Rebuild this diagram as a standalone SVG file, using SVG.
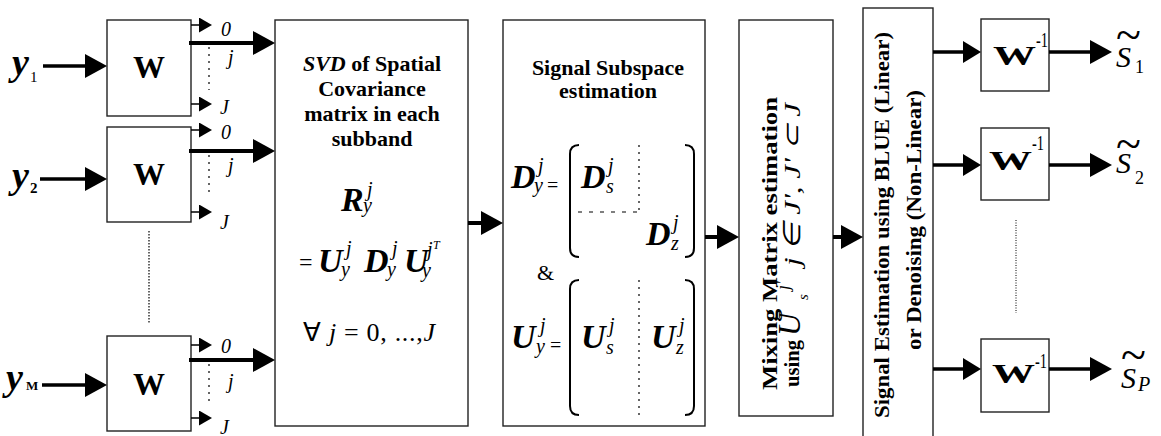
<svg xmlns="http://www.w3.org/2000/svg" width="1161" height="436" viewBox="0 0 1161 436" font-family="'Liberation Serif', 'Times New Roman', serif">
<defs>
<style>
.box{fill:#fff;stroke:#222;stroke-width:1.4}
.t{font-family:"Liberation Serif","Times New Roman",serif;fill:#000}
.b{font-weight:bold}
.i{font-style:italic}
.thick{stroke:#000;stroke-width:4;fill:none}
.med{stroke:#000;stroke-width:3.5;fill:none}
.thin{stroke:#000;stroke-width:1.5;fill:none}
.dot{stroke:#000;stroke-width:1.2;stroke-dasharray:2 5;fill:none}
.fine{stroke:#000;stroke-width:1.2;stroke-dasharray:1.5 1.5;fill:none}
.brk{stroke:#000;stroke-width:2;fill:none}
</style>
<marker id="big" markerUnits="userSpaceOnUse" markerWidth="22" markerHeight="24" refX="0" refY="12" orient="auto"><path d="M0,0 L22,12 L0,24 Z" fill="#000"/></marker>
<marker id="mid" markerUnits="userSpaceOnUse" markerWidth="18" markerHeight="22" refX="0" refY="11" orient="auto"><path d="M0,0 L18,11 L0,22 Z" fill="#000"/></marker>
<marker id="small" markerUnits="userSpaceOnUse" markerWidth="13" markerHeight="15" refX="0" refY="7.5" orient="auto"><path d="M0,0 L13,7.5 L0,15 Z" fill="#000"/></marker>
</defs>

<g id="input-labels">
<text class="t b i" x="12" y="75" font-size="38">y</text><text class="t" x="30" y="82" font-size="15">1</text>
<text class="t b i" x="12" y="188" font-size="38">y</text><text class="t b" x="30" y="193" font-size="15">2</text>
<text class="t b i" x="6" y="390" font-size="38">y</text><text class="t b" x="26" y="390" font-size="13">M</text>
</g>

<g id="w1"><rect class="box" x="107" y="20" width="84" height="96"/><text class="t b" x="149" y="78" font-size="32" text-anchor="middle">W</text></g>
<g id="w2"><rect class="box" x="107" y="127" width="84" height="95"/><text class="t b" x="149" y="185" font-size="32" text-anchor="middle">W</text></g>
<g id="w3"><rect class="box" x="107" y="336" width="84" height="95"/><text class="t b" x="149" y="395" font-size="32" text-anchor="middle">W</text></g>

<g id="subband-labels">
<text class="t i" x="221" y="36" font-size="20">0</text><text class="t i" x="228" y="64" font-size="20">j</text><text class="t i" x="220" y="114" font-size="20">J</text>
<text class="t i" x="221" y="139" font-size="20">0</text><text class="t i" x="228" y="172" font-size="20">j</text><text class="t i" x="220" y="229" font-size="20">J</text>
<text class="t i" x="221" y="353" font-size="20">0</text><text class="t i" x="228" y="388" font-size="20">j</text><text class="t i" x="220" y="434" font-size="20">J</text>
</g>

<g id="svd">
<rect class="box" x="275" y="20" width="193" height="406"/>
<text class="t b" x="372" y="71" font-size="22" text-anchor="middle"><tspan class="i">SVD</tspan> of Spatial</text>
<text class="t b" x="372" y="96" font-size="22" text-anchor="middle">Covariance</text>
<text class="t b" x="372" y="121" font-size="22" text-anchor="middle">matrix in each</text>
<text class="t b" x="372" y="146" font-size="22" text-anchor="middle">subband</text>
<text class="t b i" x="341" y="211" font-size="34">R</text><text class="t i" x="367" y="196" font-size="20">j</text><text class="t i" x="363" y="212" font-size="20">y</text>
<text class="t" x="299" y="270" font-size="24">=</text>
<text class="t b i" x="318" y="272" font-size="34">U</text><text class="t i" x="346" y="255" font-size="20">j</text><text class="t i" x="341" y="276" font-size="20">y</text>
<text class="t b i" x="364" y="272" font-size="34">D</text><text class="t i" x="392" y="255" font-size="20">j</text><text class="t i" x="387" y="276" font-size="20">y</text>
<text class="t b i" x="404" y="272" font-size="34">U</text><text class="t i" x="427" y="256" font-size="20">j</text><text class="t i" x="433" y="249" font-size="12">T</text><text class="t i" x="422" y="277" font-size="20">y</text>
<text class="t" x="303" y="341" font-size="26" textLength="132"><tspan>∀ </tspan><tspan class="i">j</tspan><tspan> = 0, ...,</tspan><tspan class="i">J</tspan></text>
</g>

<g id="subspace">
<rect class="box" x="503" y="20" width="202" height="406"/>
<text class="t b" x="608" y="75" font-size="22" text-anchor="middle">Signal Subspace</text>
<text class="t b" x="608" y="98" font-size="22" text-anchor="middle">estimation</text>
<text class="t b i" x="511" y="188" font-size="34">D</text><text class="t i" x="538" y="172" font-size="20">j</text><text class="t i" x="534" y="192" font-size="20">y</text><text class="t" x="547" y="192" font-size="20">=</text>
<path class="brk" d="M579,145 Q570,145 570,154 L570,248 Q570,257 579,257"/>
<path class="brk" d="M685,145 Q694,145 694,154 L694,248 Q694,257 685,257"/>
<text class="t b i" x="581" y="188" font-size="34">D</text><text class="t i" x="608" y="172" font-size="20">j</text><text class="t i" x="606" y="193" font-size="20">s</text>
<line class="dot" x1="639" y1="145" x2="639" y2="210"/>
<line class="dot" x1="578" y1="212" x2="640" y2="212" style="stroke-dasharray:4 7"/>
<text class="t b i" x="646" y="245" font-size="34">D</text><text class="t i" x="673" y="229" font-size="20">j</text><text class="t i" x="671" y="250" font-size="20">z</text>
<text class="t" x="537" y="280" font-size="22">&amp;</text>
<text class="t b i" x="511" y="348" font-size="34">U</text><text class="t i" x="540" y="332" font-size="20">j</text><text class="t i" x="536" y="353" font-size="20">y</text><text class="t" x="550" y="352" font-size="20">=</text>
<path class="brk" d="M579,280 Q570,280 570,289 L570,406 Q570,415 579,415"/>
<path class="brk" d="M685,280 Q694,280 694,289 L694,406 Q694,415 685,415"/>
<text class="t b i" x="581" y="348" font-size="34">U</text><text class="t i" x="609" y="332" font-size="20">j</text><text class="t i" x="606" y="354" font-size="20">s</text>
<line class="dot" x1="639" y1="280" x2="639" y2="415"/>
<text class="t b i" x="651" y="348" font-size="34">U</text><text class="t i" x="679" y="332" font-size="20">j</text><text class="t i" x="676" y="354" font-size="20">z</text>
</g>

<g id="mixing">
<rect class="box" x="739" y="20" width="94" height="396"/>
<g transform="rotate(-90)">
<text class="t b" x="-390" y="777" font-size="20" textLength="293" lengthAdjust="spacingAndGlyphs">Mixing Matrix estimation</text>
<text class="t b" x="-387" y="799" font-size="20" textLength="47" lengthAdjust="spacingAndGlyphs">using</text>
<text class="t i" x="-336" y="800" font-size="32">U</text>
<text class="t i" x="-300" y="808" font-size="15">s</text>
<text class="t i" x="-290" y="789" font-size="18">j'</text>
<text class="t i" x="-266" y="800" font-size="24" textLength="163" lengthAdjust="spacingAndGlyphs">j ∈ J', J' ⊂ J</text>
</g>
</g>

<g id="estimation">
<rect class="box" x="863" y="8" width="70" height="440"/>
<g transform="rotate(-90)">
<text class="t b" x="-418" y="889" font-size="20" textLength="386" lengthAdjust="spacingAndGlyphs">Signal Estimation using BLUE (Linear)</text>
<text class="t b" x="-350" y="921" font-size="20" textLength="260" lengthAdjust="spacingAndGlyphs">or Denoising (Non-Linear)</text>
</g>
</g>

<g id="winv1"><rect class="box" x="981" y="19" width="68" height="72"/><text class="t b" x="993" y="65" font-size="27" textLength="43" lengthAdjust="spacingAndGlyphs">W</text><text class="t" x="1036" y="47" font-size="20" textLength="12" lengthAdjust="spacingAndGlyphs">-1</text></g>
<g id="winv2"><rect class="box" x="981" y="128" width="68" height="72"/><text class="t b" x="989" y="170" font-size="27" textLength="43" lengthAdjust="spacingAndGlyphs">W</text><text class="t" x="1032" y="150" font-size="20" textLength="12" lengthAdjust="spacingAndGlyphs">-1</text></g>
<g id="winv3"><rect class="box" x="981" y="339" width="68" height="73"/><text class="t b" x="992" y="383" font-size="27" textLength="43" lengthAdjust="spacingAndGlyphs">W</text><text class="t" x="1035" y="368" font-size="20" textLength="12" lengthAdjust="spacingAndGlyphs">-1</text></g>

<g id="outputs">
<text class="t" x="1116" y="50" font-size="46">~</text><text class="t i" x="1116" y="67" font-size="30">S</text><text class="t" x="1135" y="73" font-size="18">1</text>
<text class="t" x="1116" y="159" font-size="46">~</text><text class="t i" x="1116" y="173" font-size="30">S</text><text class="t" x="1135" y="184" font-size="18">2</text>
<text class="t" x="1121" y="370" font-size="46">~</text><text class="t i" x="1121" y="388" font-size="30">S</text><text class="t i" x="1138" y="391" font-size="20">P</text>
</g>

<g id="connectors">
<line class="med" x1="43" y1="66" x2="85" y2="66" marker-end="url(#big)"/>
<line class="med" x1="40" y1="179" x2="85" y2="179" marker-end="url(#big)"/>
<line class="med" x1="42" y1="385" x2="85" y2="385" marker-end="url(#big)"/>
<line class="thin" x1="191" y1="25" x2="199" y2="25" marker-end="url(#small)"/>
<line class="thin" x1="191" y1="104" x2="199" y2="104" marker-end="url(#small)"/>
<line class="thin" x1="191" y1="130" x2="199" y2="130" marker-end="url(#small)"/>
<line class="thin" x1="191" y1="212" x2="199" y2="212" marker-end="url(#small)"/>
<line class="thin" x1="191" y1="345" x2="199" y2="345" marker-end="url(#small)"/>
<line class="thin" x1="191" y1="418" x2="199" y2="418" marker-end="url(#small)"/>
<line class="dot" x1="209" y1="47" x2="209" y2="90"/>
<line class="dot" x1="209" y1="155" x2="209" y2="197"/>
<line class="dot" x1="209" y1="364" x2="209" y2="405"/>
<line class="fine" x1="149" y1="231" x2="149" y2="323"/>
<line class="thick" x1="189" y1="43" x2="253" y2="43" marker-end="url(#big)"/>
<line class="thick" x1="189" y1="151" x2="253" y2="151" marker-end="url(#big)"/>
<line class="thick" x1="189" y1="360" x2="253" y2="360" marker-end="url(#big)"/>
<line class="thick" x1="468" y1="223" x2="481" y2="223" marker-end="url(#big)"/>
<line class="thick" x1="705" y1="237" x2="717" y2="237" marker-end="url(#big)"/>
<line class="thick" x1="833" y1="237" x2="841" y2="237" marker-end="url(#big)"/>
<line class="med" x1="933" y1="52" x2="963" y2="52" marker-end="url(#mid)"/>
<line class="med" x1="933" y1="165" x2="963" y2="165" marker-end="url(#mid)"/>
<line class="med" x1="933" y1="369" x2="963" y2="369" marker-end="url(#mid)"/>
<line class="med" x1="1049" y1="52" x2="1090" y2="52" marker-end="url(#big)"/>
<line class="med" x1="1049" y1="165" x2="1090" y2="165" marker-end="url(#big)"/>
<line class="med" x1="1049" y1="369" x2="1090" y2="369" marker-end="url(#big)"/>
<line class="fine" x1="1016" y1="220" x2="1016" y2="313" style="stroke-dasharray:1 1.5;stroke-width:1"/>
</g>
</svg>
